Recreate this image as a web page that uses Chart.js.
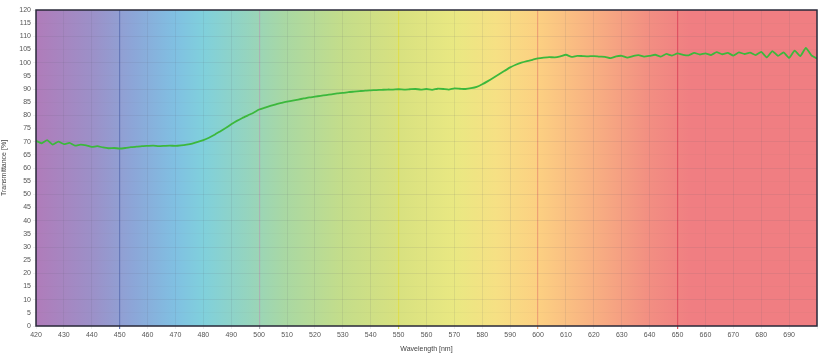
<!DOCTYPE html>
<html>
<head>
<meta charset="utf-8">
<script src="https://cdn.jsdelivr.net/npm/chart.js@4"></script>
<style>
  html, body { margin: 0; padding: 0; background: #fff; }
  #wrap { width: 819px; height: 353px; }
</style>
</head>
<body>
<div id="wrap"><canvas id="specChart" width="819" height="353"></canvas></div>
<script>
// wavelength axis, 2 nm steps
const wlStart = 420, wlEnd = 700, wlStep = 2;
const wavelengths = [];
for (let w = wlStart; w <= wlEnd; w += wlStep) wavelengths.push(w);

// transmittance [%]
const transmittance = [
  70.3, 69.4, 70.6, 68.9, 70.0, 69.1, 69.5, 68.5, 68.9, 68.6, 68.0, 68.3, 67.8, 67.5, 67.6, 67.4,
  67.6, 67.9, 68.1, 68.3, 68.4, 68.5, 68.3, 68.4, 68.5, 68.4, 68.6, 68.9, 69.3, 69.9,
  70.6, 71.5, 72.6, 73.9, 75.2, 76.6, 77.9, 79.0, 80.0, 81.0, 82.2,
  82.9, 83.6, 84.2, 84.7, 85.2, 85.6, 86.0, 86.4, 86.8, 87.1, 87.4, 87.7, 88.0, 88.3, 88.5, 88.8, 89.0, 89.2, 89.4, 89.5,
  89.6, 89.7, 89.8, 89.8, 89.9, 89.8, 89.9, 90.0, 89.8, 90.0, 89.7, 90.1, 90.0, 89.8, 90.2, 90.1, 90.0, 90.3,
  90.8, 91.8, 93.0, 94.3, 95.6, 96.9, 98.2, 99.2, 100.0, 100.6, 101.1, 101.6,
  101.9, 102.1, 102.0, 102.4, 103.0, 102.2, 102.6, 102.5, 102.4, 102.5, 102.3, 102.2, 101.7, 102.4, 102.6, 101.9, 102.5, 102.9, 102.3, 102.6,
  103.0, 102.3, 103.3, 102.7, 103.5, 103.0, 102.8, 103.7, 103.1, 103.5, 102.9, 104.0, 103.2, 103.7, 102.7, 103.9, 103.3, 103.8, 102.9, 104.1,
  102.0, 104.4, 102.6, 103.9, 101.8, 104.6, 102.5, 105.6, 102.8, 101.6
];

// spectrum backdrop: [wavelength, colour]
const spectrumStops = [
  [420, '#b07cba'], [440, '#9c90c8'], [455, '#8ca6d8'], [470, '#80c0e2'],
  [480, '#80d0dc'], [495, '#94d4c0'], [510, '#aad8a2'], [530, '#c4dd8a'],
  [550, '#d8e180'], [570, '#e9e882'], [585, '#f6e084'], [600, '#fcd082'],
  [620, '#f8b082'], [640, '#f28e82'], [655, '#f07e82'], [700, '#f07e82']
];

// highlighted vertical lines
const markerLines = { 450: '#6678b8', 500: '#aab2b4', 550: '#dede50', 600: '#eea274', 650: '#e05262' };

const spectrumPlugin = {
  id: 'spectrum',
  beforeDraw(chart) {
    const { ctx, chartArea, scales } = chart;
    const g = ctx.createLinearGradient(chartArea.left, 0, chartArea.right, 0);
    const w = chartArea.right - chartArea.left;
    spectrumStops.forEach(([nm, c]) => {
      const p = (scales.x.getPixelForValue(nm) - chartArea.left) / w;
      g.addColorStop(Math.min(1, Math.max(0, p)), c);
    });
    ctx.save();
    ctx.fillStyle = g;
    ctx.fillRect(chartArea.left, chartArea.top, w, chartArea.bottom - chartArea.top);
    ctx.restore();
  },
  afterDraw(chart) {
    const { ctx, chartArea } = chart;
    ctx.save();
    ctx.strokeStyle = '#2a2a3a';
    ctx.lineWidth = 1.5;
    ctx.strokeRect(chartArea.left, chartArea.top, chartArea.right - chartArea.left, chartArea.bottom - chartArea.top);
    ctx.restore();
  }
};

const tickFont = { family: 'Liberation Sans', size: 7 };

new Chart(document.getElementById('specChart').getContext('2d'), {
  type: 'line',
  data: {
    datasets: [{
      data: wavelengths.map((w, i) => ({ x: w, y: transmittance[i] })),
      borderColor: '#3cb83c',
      borderWidth: 1.8,
      pointRadius: 0,
      tension: 0.15,
      fill: false
    }]
  },
  options: {
    responsive: false,
    animation: false,
    layout: { padding: { top: 10, right: 1, left: 0, bottom: 0 } },
    plugins: { legend: { display: false }, tooltip: { enabled: false } },
    scales: {
      x: {
        type: 'linear',
        min: 420,
        max: 700,
        grid: {
          color: c => markerLines[c.tick.value] || 'rgba(90,90,110,0.11)',
          lineWidth: c => markerLines[c.tick.value] ? 1.2 : 1,
          tickLength: 3
        },
        border: { display: false },
        ticks: {
          stepSize: 10,
          autoSkip: false,
          maxRotation: 0,
          font: tickFont,
          color: '#555',
          padding: 2,
          callback: v => (v < 700 ? v : '')
        },
        title: { display: true, text: 'Wavelength [nm]', font: tickFont, color: '#444', padding: { top: 0, bottom: 0 } },
        afterFit: s => { s.height = 27; }
      },
      y: {
        min: 0,
        max: 120,
        grid: {
          color: c => (c.tick.value % 10 === 0 ? 'rgba(90,90,110,0.1)' : 'rgba(90,90,110,0.04)'),
          tickLength: 3
        },
        border: { display: false },
        ticks: { stepSize: 5, font: tickFont, color: '#555', padding: 2 },
        title: { display: true, text: 'Transmittance [%]', font: tickFont, color: '#444', padding: { top: 0, bottom: 2 } },
        afterFit: s => { s.width = 36; }
      }
    }
  },
  plugins: [spectrumPlugin]
});
</script>
</body>
</html>
